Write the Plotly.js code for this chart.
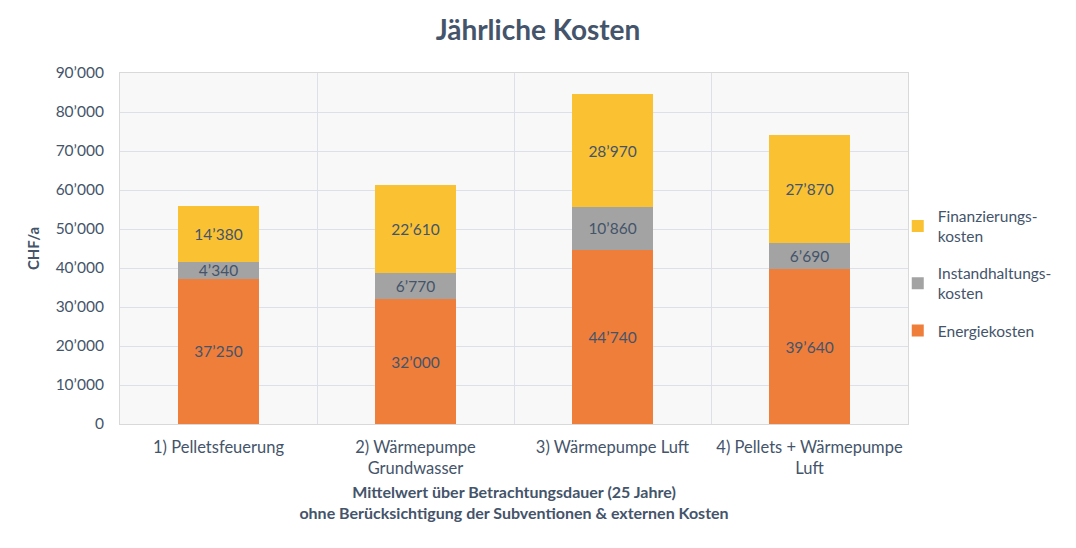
<!DOCTYPE html>
<html><head><meta charset="utf-8">
<script src="https://cdn.plot.ly/plotly-3.0.1.min.js"></script>
<style>body{margin:0;background:#fff}#chart{width:1076px;height:548px}</style>
</head><body><div id="chart"></div>
<script>
const categories = ["1) Pelletsfeuerung", "2) Wärmepumpe<br>Grundwasser", "3) Wärmepumpe Luft", "4) Pellets + Wärmepumpe<br>Luft"];
const energiekosten = [37250, 32000, 44740, 39640];
const instandhaltung = [4340, 6770, 10860, 6690];
const finanzierung = [14380, 22610, 28970, 27870];
const seriesNames = ["Energiekosten", "Instandhaltungs-<br>kosten", "Finanzierungs-<br>kosten"];

const txt = "#44546a";
const font = "Lato, 'Open Sans', sans-serif";
function tr(y, name, color, g, rank) {
  return {type: "bar", x: categories, y: y, name: name, legendgroup: g, legendrank: rank,
    marker: {color: color},
    texttemplate: "%{y:,}", textposition: "inside", insidetextanchor: "middle",
    constraintext: "none",
    textfont: {color: txt, size: 15.5, family: font}, hoverinfo: "none"};
}
const data = [
  tr(energiekosten, seriesNames[0], "#ef7e3b", "a", 3),
  tr(instandhaltung, seriesNames[1], "#a3a3a3", "b", 2),
  tr(finanzierung, seriesNames[2], "#fac233", "c", 1)
];
const layout = {
  width: 1076, height: 548,
  margin: {l: 120, r: 168, t: 73, b: 124, autoexpand: false},
  paper_bgcolor: "#ffffff", plot_bgcolor: "#f8f8f8",
  separators: ".’",
  barmode: "stack", bargap: 0.59,
  font: {family: font, color: txt, size: 15},
  title: {text: "<b>Jährliche Kosten</b>", x: 0.5, xref: "container", xanchor: "center", y: 0.945, yanchor: "middle", font: {size: 28, color: txt, family: font}},
  xaxis: {type: "category", tickson: "boundaries", showgrid: true, gridcolor: "#dde0e6", gridwidth: 1,
    ticks: "", ticklabelstandoff: 8, showline: true, linecolor: "#d9d9d9", mirror: true, tickfont: {size: 16.5, color: txt},
    automargin: false,
    title: {text: "<b>Mittelwert über Betrachtungsdauer (25 Jahre)<br>ohne Berücksichtigung der Subventionen & externen Kosten</b>", font: {size: 16, color: txt}, standoff: 9}},
  yaxis: {range: [0, 90000], dtick: 10000, tickformat: ",", showgrid: true, gridcolor: "#dde0e6", gridwidth: 1,
    zeroline: false, showline: true, linecolor: "#d9d9d9", mirror: true, ticks: "outside", ticklen: 12, tickcolor: "rgba(0,0,0,0)",
    tickfont: {size: 15.5, color: txt}, automargin: false,
    title: {text: "<b>CHF/a</b>", font: {size: 15, color: txt}, standoff: 12}},
  legend: {x: 0.987, y: 0.64, xanchor: "left", yanchor: "top", traceorder: "grouped",
    font: {size: 15.5, color: txt}, tracegroupgap: 14, bgcolor: "rgba(0,0,0,0)"},
  showlegend: true
};
Plotly.newPlot("chart", data, layout, {displayModeBar: false, staticPlot: true});
</script></body></html>
